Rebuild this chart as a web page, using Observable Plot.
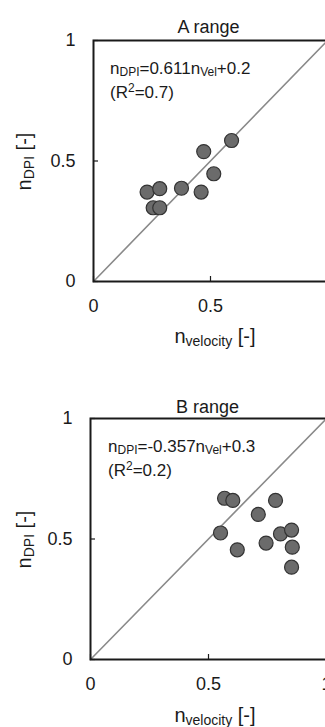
<!DOCTYPE html>
<html><head><meta charset="utf-8">
<script src="https://cdn.jsdelivr.net/npm/d3@7"></script>
<script src="https://cdn.jsdelivr.net/npm/@observablehq/plot@0.6"></script>
<style>
html,body{margin:0;padding:0;background:#fff;overflow:hidden}
#wrap{width:325px;height:727px;overflow:hidden;position:relative;background:#fff}
#wrap svg{display:block}
</style></head><body><div id="wrap"></div>
<script>
// ---- data ----
const panelTitles = ["A range", "B range"];
const xTicksA = [0, 0.5];
const xTicksB = [0, 0.5, 1];
const yTicks = [0, 0.5, 1];
const identityLine = [0, 1];
const aVelocity = [0.471, 0.590, 0.514, 0.229, 0.283, 0.376, 0.460, 0.255, 0.283];
const aDPI      = [0.539, 0.585, 0.447, 0.371, 0.385, 0.387, 0.371, 0.306, 0.306];
const bVelocity = [0.568, 0.603, 0.784, 0.711, 0.551, 0.805, 0.852, 0.744, 0.622, 0.855, 0.852];
const bDPI      = [0.669, 0.660, 0.660, 0.602, 0.525, 0.521, 0.537, 0.483, 0.455, 0.466, 0.383];
const eqSlopes = ["0.611", "-0.357"];
const eqIntercepts = ["0.2", "0.3"];
const eqR2 = ["0.7", "0.2"];

const FONT = "'Liberation Sans', Arial, sans-serif";
const INK = "#1a1a1a";

function rich(textSel, parts, size, small, subShift, supShift) {
  let shift = 0;
  parts.forEach(p => {
    const ts = textSel.append("tspan").text(p.t);
    const target = p.sub ? subShift : p.sup ? -supShift : 0;
    if (target !== shift) { ts.attr("dy", target - shift); shift = target; }
    ts.attr("font-size", (p.sub || p.sup) ? small : size);
  });
}

function panel(i, xs, ys, xTicks, opts) {
  const {height, ml, mr, width} = opts;
  const mt = 40, plotBottom = 281;
  const pts = xs.map((x, k) => ({x, y: ys[k]}));
  const diag = identityLine.map(v => ({x: v, y: v}));
  const svg = Plot.plot({
    width, height,
    marginLeft: ml, marginRight: mr, marginTop: mt, marginBottom: height - plotBottom,
    style: {fontFamily: FONT, fontSize: "18px", color: INK, maxWidth: "none", background: "#fff"},
    x: {domain: [0, 1], label: null},
    y: {domain: [0, 1], label: null},
    marks: [
      Plot.line(diag, {x: "x", y: "y", stroke: "#8a8a8a", strokeWidth: 1.6}),
      Plot.dot(pts, {x: "x", y: "y", r: 7, fill: "#6b6b6b", stroke: "#333", strokeWidth: 1.2}),
      Plot.frame({stroke: INK, strokeWidth: 2}),
      Plot.axisX(xTicks, {tickSize: -5, tickPadding: 23, tickFormat: d => String(d), fontSize: 18, stroke: INK, strokeWidth: 1.2}),
      Plot.axisY(yTicks, {tickSize: -5, tickPadding: 23, tickFormat: d => String(d), fontSize: 18, stroke: INK, strokeWidth: 1.2}),
      Plot.text([panelTitles[i]], {frameAnchor: "top", dy: opts.titleDy, dx: opts.titleDx, fontSize: 18, fill: INK})
    ]
  });
  const s = d3.select(svg);
  const f = FONT;
  // regression equation
  const eq1 = s.append("text").attr("x", opts.eqX).attr("y", mt + 34).attr("text-anchor", "start").attr("font-family", f).attr("fill", INK);
  rich(eq1, [{t: "n"}, {t: "DPI", sub: true}, {t: "=" + eqSlopes[i] + "n"}, {t: "Vel", sub: true}, {t: "+" + eqIntercepts[i]}], 17, 12, 2, 6);
  const eq2 = s.append("text").attr("x", opts.eqX).attr("y", mt + 58).attr("text-anchor", "start").attr("font-family", f).attr("fill", INK);
  rich(eq2, [{t: "(R"}, {t: "2", sup: true}, {t: "=" + eqR2[i] + ")"}], 17, 12, 2, 6);
  // x label
  const xl = s.append("text").attr("x", 215).attr("y", plotBottom + opts.xlDy).attr("text-anchor", "middle").attr("font-family", f).attr("fill", INK);
  rich(xl, [{t: "n"}, {t: "velocity", sub: true}, {t: " [-]"}], 20, 14, 3, 6);
  // y label
  const yl = s.append("text").attr("transform", `translate(31,${(mt + plotBottom) / 2 + 1}) rotate(-90)`).attr("text-anchor", "middle").attr("font-family", f).attr("fill", INK);
  rich(yl, [{t: "n"}, {t: "DPI", sub: true}, {t: " [-]"}], 20, 14, 3, 6);
  return svg;
}

const wrap = document.getElementById("wrap");
wrap.appendChild(panel(0, aVelocity, aDPI, xTicksA, {height: 378, ml: 93, mr: 1, width: 328, titleDx: -2, titleDy: -20, eqX: 110, xlDy: 62}));
wrap.appendChild(panel(1, bVelocity, bDPI, xTicksB, {height: 349, ml: 90, mr: 2, width: 328, titleDx: -1, titleDy: -18.5, eqX: 108, xlDy: 63}));
</script>
</body></html>
